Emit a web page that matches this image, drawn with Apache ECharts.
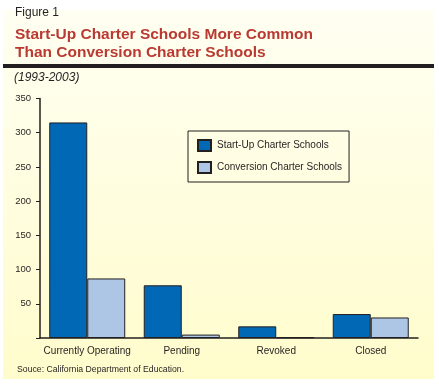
<!DOCTYPE html>
<html><head><meta charset="utf-8">
<script src="https://cdn.jsdelivr.net/npm/echarts@6/dist/echarts.min.js"></script>
<style>html,body{margin:0;padding:0;background:#fff}#c{width:439px;height:384px}</style>
</head><body><div id="c"></div>
<script>
const categories = ['Currently Operating', 'Pending', 'Revoked', 'Closed'];
const startUp = [315, 77, 17, 35];
const conversion = [87, 5, 1, 30];
const seriesNames = ['Start-Up Charter Schools', 'Conversion Charter Schools'];
const yTicks = [0, 50, 100, 150, 200, 250, 300, 350];

const SANS = '"Liberation Sans", Arial, Helvetica, sans-serif';
const DARK = '#231F20';

const chart = echarts.init(document.getElementById('c'), null, {renderer: 'canvas'});
chart.setOption({
  backgroundColor: '#ffffff',
  animation: false,
  graphic: [
    {type: 'rect', z: -10, shape: {x: 3, y: 10, width: 431, height: 369},
     style: {fill: new echarts.graphic.LinearGradient(0, 0, 0, 1, [
       {offset: 0, color: '#FFFFF2'}, {offset: 1, color: '#FFFCCC'}])}},
    {type: 'text', left: 15, top: 7, style: {text: 'Figure 1', font: '12px ' + SANS, fill: DARK}},
    {type: 'text', left: 15, top: 27, style: {text: 'Start-Up Charter Schools More Common', font: 'bold 15.5px ' + SANS, fill: '#B93A32'}},
    {type: 'text', left: 15, top: 45, style: {text: 'Than Conversion Charter Schools', font: 'bold 15.5px ' + SANS, fill: '#B93A32'}},
    {type: 'rect', shape: {x: 3, y: 64, width: 431, height: 4}, style: {fill: DARK}},
    {type: 'text', left: 14, top: 72, style: {text: '(1993-2003)', font: 'italic 12px ' + SANS, fill: DARK}},
    {type: 'text', left: 17, top: 365, style: {text: 'Souce: California Department of Education.', font: '8.7px ' + SANS, fill: DARK}}
  ],
  grid: {left: 40, right: 21, top: 98.5, bottom: 46, containLabel: false},
  legend: {
    orient: 'vertical', left: 188, top: 131,
    padding: [8, 7, 8, 9],
    itemWidth: 13, itemHeight: 11, itemGap: 9,
    borderColor: DARK, borderWidth: 1, backgroundColor: 'transparent',
    icon: 'rect',
    textStyle: {fontFamily: SANS, fontSize: 10, color: DARK, padding: [0, 0, 0, 1]},
    data: seriesNames
  },
  xAxis: {
    type: 'category', data: categories,
    axisLine: {lineStyle: {color: DARK, width: 1.5}},
    axisTick: {show: false},
    axisLabel: {interval: 0, fontFamily: SANS, fontSize: 10, color: DARK, margin: 8}
  },
  yAxis: {
    type: 'value', min: 0, max: 350, interval: 50,
    axisLine: {show: true, lineStyle: {color: DARK, width: 1.5}},
    axisTick: {show: true, length: 4, lineStyle: {color: DARK}},
    splitLine: {show: false},
    axisLabel: {fontFamily: SANS, fontSize: 9.5, color: DARK, margin: 9,
      formatter: v => (v === 0 ? '' : String(yTicks[yTicks.indexOf(v)]))}
  },
  series: [
    {name: seriesNames[0], type: 'bar', data: startUp, barGap: '0%', barCategoryGap: '19.6%',
     itemStyle: {color: '#0068B4', borderColor: DARK, borderWidth: 1}},
    {name: seriesNames[1], type: 'bar', data: conversion,
     itemStyle: {color: '#AEC6E6', borderColor: DARK, borderWidth: 1}}
  ]
});
</script></body></html>
